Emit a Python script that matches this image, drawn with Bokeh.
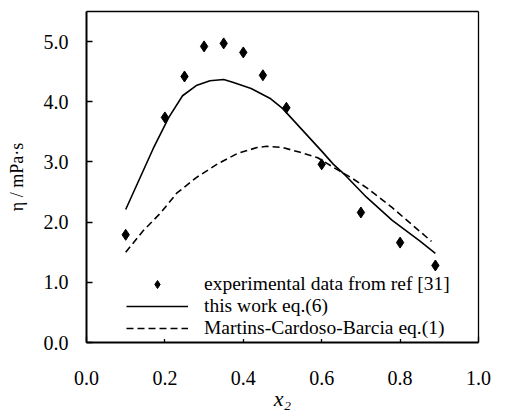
from bokeh.plotting import figure
from bokeh.models import Range1d, FixedTicker, Legend, LegendItem, LinearAxis
from bokeh.embed import file_html
from bokeh.resources import INLINE

# experimental data (ref [31])
x_exp = [0.10, 0.20, 0.25, 0.30, 0.35, 0.40, 0.45, 0.51, 0.60, 0.70, 0.80, 0.89]
eta_exp = [1.79, 3.74, 4.42, 4.92, 4.97, 4.82, 4.44, 3.90, 2.96, 2.16, 1.66, 1.28]

# this work eq.(6)
x_eq6 = [0.10, 0.17, 0.21, 0.245, 0.28, 0.315, 0.35, 0.375, 0.42, 0.47, 0.50,
         0.545, 0.60, 0.63, 0.66, 0.715, 0.78, 0.85, 0.89]
eta_eq6 = [2.21, 3.22, 3.74, 4.10, 4.27, 4.35, 4.37, 4.32, 4.22, 4.05, 3.89,
           3.57, 3.18, 2.96, 2.78, 2.41, 2.03, 1.69, 1.48]

# Martins-Cardoso-Barcia eq.(1)
x_eq1 = [0.10, 0.145, 0.19, 0.23, 0.28, 0.335, 0.385, 0.435, 0.46, 0.50, 0.545,
         0.59, 0.63, 0.675, 0.715, 0.78, 0.88]
eta_eq1 = [1.50, 1.86, 2.16, 2.48, 2.74, 2.97, 3.14, 3.24, 3.26, 3.24, 3.16,
           3.07, 2.91, 2.74, 2.57, 2.24, 1.68]

x_ticks = [0.0, 0.2, 0.4, 0.6, 0.8, 1.0]
y_ticks = [0.0, 1.0, 2.0, 3.0, 4.0, 5.0]
x_tick_labels = {0.0: "0.0", 0.2: "0.2", 0.4: "0.4", 0.6: "0.6", 0.8: "0.8", 1.0: "1.0"}
y_tick_labels = {0.0: "0.0", 1.0: "1.0", 2.0: "2.0", 3.0: "3.0", 4.0: "4.0", 5.0: "5.0"}

FONT = "Liberation Serif"

p = figure(width=511, height=416, output_backend="svg", toolbar_location=None,
           x_range=Range1d(0, 1.0), y_range=Range1d(0, 5.5),
           min_border_left=86, min_border_right=33, min_border_top=11,
           min_border_bottom=74)
p.grid.visible = False
p.outline_line_color = None
p.background_fill_color = "white"
p.border_fill_color = "white"

for ax in (p.xaxis[0], p.yaxis[0]):
    ax.axis_line_width = 2
    ax.axis_line_color = "black"
    ax.major_tick_in = 6
    ax.major_tick_out = 0
    ax.major_tick_line_width = 1.3
    ax.minor_tick_line_color = None
    ax.major_label_text_font = FONT
    ax.major_label_text_font_size = "20px"
    ax.major_label_text_color = "black"
    ax.axis_label_text_font = FONT
    ax.axis_label_text_color = "black"

p.xaxis.ticker = FixedTicker(ticks=x_ticks)
p.yaxis.ticker = FixedTicker(ticks=y_ticks)
p.xaxis.major_label_overrides = x_tick_labels
p.yaxis.major_label_overrides = y_tick_labels
p.xaxis.major_label_standoff = 28
p.yaxis.major_label_standoff = 18

p.xaxis.axis_label = "x₂"
p.xaxis.axis_label_text_font_style = "italic"
p.xaxis.axis_label_text_font_size = "22px"
p.xaxis.axis_label_standoff = -2
p.yaxis.axis_label = "η / mPa·s"
p.yaxis.axis_label_text_font_style = "normal"
p.yaxis.axis_label_text_font_size = "18px"
p.yaxis.axis_label_standoff = 14

# top and right frame lines
for loc in ("above", "right"):
    a = LinearAxis(ticker=FixedTicker(ticks=[]), major_label_text_font_size="0px",
                   axis_line_width=1.3, axis_line_color="black",
                   major_tick_line_color=None, minor_tick_line_color=None)
    p.add_layout(a, loc)

r_exp = p.scatter(x_exp, eta_exp, marker="diamond", size=11,
                  fill_color="black", line_color="black")
r_eq6 = p.line(x_eq6, eta_eq6, line_color="black", line_width=1.6)
r_eq1 = p.line(x_eq1, eta_eq1, line_color="black", line_width=1.6, line_dash="7 4")

legend = Legend(items=[
    LegendItem(label="experimental data from ref [31]", renderers=[r_exp]),
    LegendItem(label="this work eq.(6)", renderers=[r_eq6]),
    LegendItem(label="Martins-Cardoso-Barcia eq.(1)", renderers=[r_eq1]),
], location=(40, 3))
legend.level = "underlay"
legend.margin = 0
legend.padding = 0
legend.spacing = 0
legend.glyph_width = 62
legend.glyph_height = 20
legend.label_height = 20
legend.label_standoff = 16
legend.label_text_font = FONT
legend.label_text_font_size = "19.5px"
legend.label_text_line_height = 1.0
legend.label_text_baseline = "top"
legend.label_text_color = "black"
legend.border_line_color = None
legend.background_fill_color = "white"
legend.background_fill_alpha = 1.0
p.add_layout(legend, "center")

open("out.html", "w").write(file_html(p, INLINE))
